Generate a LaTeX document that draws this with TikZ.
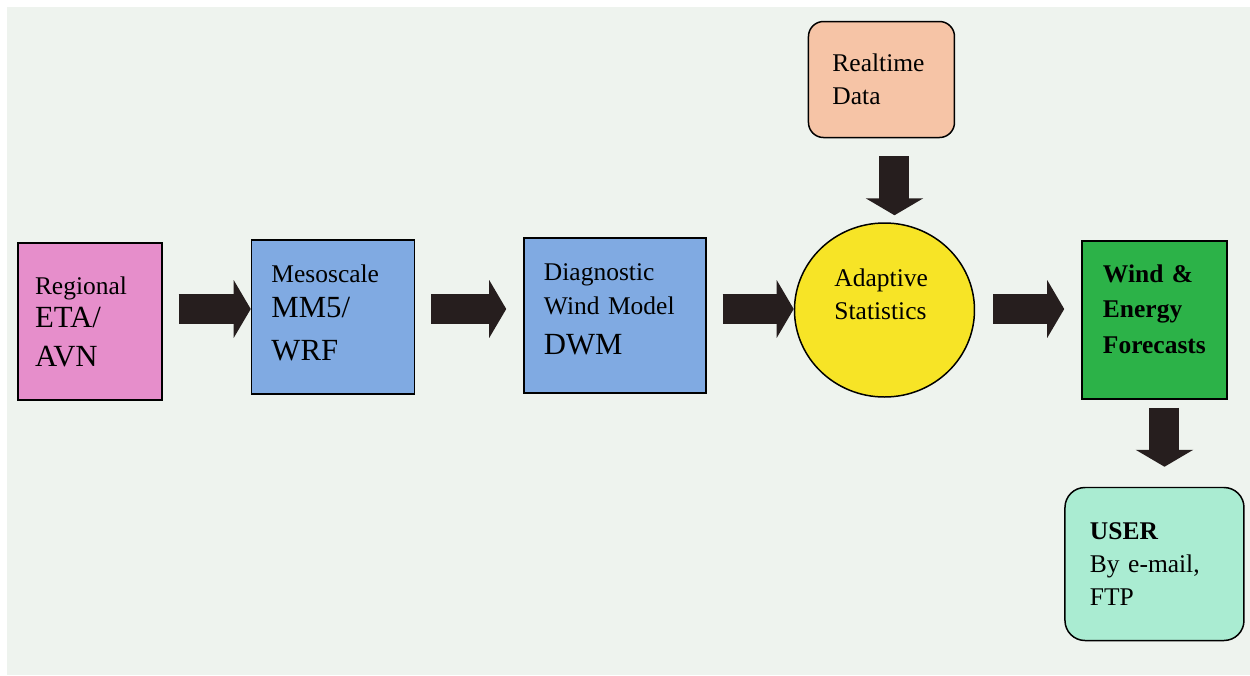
\documentclass[tikz,border=0pt]{standalone}
\usepackage{fontspec}
\setmainfont{Liberation Serif}
\usepackage{tikz}
\usetikzlibrary{shapes.geometric, arrows.meta, positioning}

\definecolor{pagebg}{RGB}{238,243,238}
\definecolor{regpink}{RGB}{230,142,203}
\definecolor{modelblue}{RGB}{128,170,226}
\definecolor{statyellow}{RGB}{247,228,38}
\definecolor{datapeach}{RGB}{246,196,166}
\definecolor{fcgreen}{RGB}{44,178,72}
\definecolor{usermint}{RGB}{170,236,210}
\definecolor{arrowdark}{RGB}{38,30,30}

\newcommand{\bigtxt}[1]{{\fontsize{17.5}{22}\selectfont #1}}

\begin{document}
\begin{tikzpicture}[
      node distance=1.7cm,
      font=\fontsize{14.5}{19}\selectfont,
      model/.style={rectangle, draw, line width=0.85pt, align=left, inner sep=0pt},
      datanode/.style={rectangle, draw, line width=0.85pt, align=left, rounded corners=0.3cm, inner sep=0pt},
      bigarrow/.style={draw=arrowdark, line width=0.6cm, -{Triangle[length=0.34cm, width=1.14cm]}, arrowdark}
      ]

      % Page
      \useasboundingbox (-1.8,-7.07) rectangle (23.2,6.43);
      \fill[pagebg] (-1.66,-7.07) rectangle (23.2,6.29);

      % Nodes
      \node[model, fill=regpink, minimum width=2.88cm, minimum height=3.14cm, text width=2.2cm] (regional) at (0,0)
            {Regional\\ \bigtxt{ETA/}\\[3pt] \bigtxt{AVN}};
      \node[model, fill=modelblue, minimum width=3.26cm, minimum height=3.08cm, text width=2.46cm, text depth=49pt,
            right=1.76cm of regional, yshift=0.09cm] (meso)
            {Mesoscale\\[1pt] \bigtxt{MM5/}\\[5pt] \bigtxt{WRF}};
      \node[model, fill=modelblue, minimum width=3.64cm, minimum height=3.1cm, text width=2.84cm, text depth=49pt,
            right=2.16cm of meso, yshift=0.03cm] (diag)
            {Diagnostic\\ Wind Model\\[4pt] \bigtxt{DWM}};
      \node[ellipse, draw, line width=0.85pt, fill=statyellow, minimum width=3.6cm, minimum height=3.48cm,
            text width=2cm, text depth=37pt, align=left, inner sep=0pt, right=1.74cm of diag, yshift=0.11cm] (adapt)
            {Adaptive\\ Statistics};
      \node[datanode, fill=datapeach, minimum width=2.92cm, minimum height=2.32cm, text width=1.96cm,
            above=1.68cm of adapt, xshift=-0.06cm] (realtime) {Realtime\\ Data};
      \node[model, fill=fcgreen, minimum width=2.9cm, minimum height=3.16cm, text width=2.06cm, text depth=52.5pt,
            font=\fontsize{14.5}{20}\selectfont\bfseries, right=2.12cm of adapt, yshift=-0.2cm] (forecast)
            {Wind \&\\ Energy\\ Forecasts};
      \node[datanode, fill=usermint, rounded corners=0.4cm, minimum width=3.58cm, minimum height=3.06cm,
            text width=2.58cm, below=1.74cm of forecast] (user)
            {\textbf{USER}\\ By e-mail,\\ FTP};

      \coordinate (flow) at (0,0.25);

      % Arrows
      \draw[bigarrow, shorten <=0.32cm] (regional.east |- flow) -- (meso.west |- flow);
      \draw[bigarrow, shorten <=0.32cm, shorten >=0.34cm] (meso.east |- flow) -- (diag.west |- flow);
      \draw[bigarrow, shorten <=0.32cm] (diag.east |- flow) -- (adapt.west |- flow);
      \draw[bigarrow, shorten <=0.36cm, shorten >=0.34cm] (adapt.east |- flow) -- (forecast.west |- flow);
      \draw[bigarrow, shorten <=0.36cm, shorten >=0.14cm] ([xshift=0.26cm]realtime.south) -- ([xshift=0.26cm]realtime.south |- adapt.north);
      \draw[bigarrow, shorten <=0.16cm, shorten >=0.4cm] ([xshift=0.2cm]forecast.south) -- ([xshift=0.2cm]forecast.south |- user.north);
    \end{tikzpicture}
\end{document}
